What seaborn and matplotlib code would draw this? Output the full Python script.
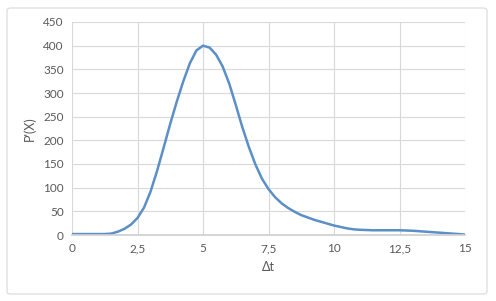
import matplotlib
matplotlib.use("Agg")
import matplotlib.pyplot as plt
import seaborn as sns
import pandas as pd
from matplotlib.ticker import FuncFormatter, MultipleLocator
from matplotlib.patches import FancyBboxPatch

dt = [0, 0.25, 0.5, 0.75, 1, 1.25, 1.5, 1.75, 2, 2.25, 2.5, 2.75, 3, 3.25, 3.5,
      3.75, 4, 4.25, 4.5, 4.75, 5, 5.25, 5.5, 5.75, 6, 6.25, 6.5, 6.75, 7, 7.25,
      7.5, 7.75, 8, 8.25, 8.5, 8.75, 9, 9.25, 9.5, 9.75, 10, 10.25, 10.5, 10.75,
      11, 11.5, 12, 12.5, 13, 13.5, 14, 14.5, 15]
px = [2, 2, 2, 2, 2, 2, 3, 7, 13, 22, 36, 58, 92, 136, 185,
      235, 282, 325, 363, 390, 400, 396, 381, 356, 320, 275, 228, 186, 149, 119,
      97, 80, 67, 57, 49, 42, 37, 32, 28, 24, 20, 17, 14, 12,
      11, 10, 10, 10, 9, 7, 5, 3, 1]

df = pd.DataFrame({"dt": dt, "p": px})

sns.set_theme(style="white")
plt.rcParams["font.family"] = ["Lato", "DejaVu Sans"]

fig = plt.figure(figsize=(4.96, 3.01), dpi=100)
ax = fig.add_axes([72/496, 1-235/301, (465-72)/496, (235-22)/301])

sns.lineplot(data=df, x="dt", y="p", ax=ax, color="#5b8fc7", linewidth=1.8)
for ln in ax.lines:
    ln.set_solid_joinstyle("round")
    ln.set_solid_capstyle("round")

ax.set_xlim(0, 15)
ax.set_ylim(0, 450)
ax.xaxis.set_major_locator(MultipleLocator(2.5))
ax.yaxis.set_major_locator(MultipleLocator(50))
ax.xaxis.set_major_formatter(FuncFormatter(lambda v, p: (f"{v:g}").replace(".", ",")))
ax.grid(True, color="#d9d9d9", linewidth=0.8)
ax.set_axisbelow(True)
for s in ["top", "right", "left"]:
    ax.spines[s].set_visible(False)
ax.spines["bottom"].set_color("#d0d0d0")
ax.tick_params(axis="both", length=0, labelsize=8.5, labelcolor="#595959", pad=6)
ax.set_xlabel("Δt", fontsize=9, color="#595959", labelpad=5)
ax.set_ylabel("P'(X)", fontsize=9, color="#595959", labelpad=5)

border = FancyBboxPatch((7/496, 7/301), (487-7)/496, (293-7)/301,
                        boxstyle="round,pad=0,rounding_size=0.008",
                        transform=fig.transFigure, fill=False,
                        edgecolor="#d9d9d9", linewidth=0.8)
fig.patches.append(border)

fig.savefig("out.png", dpi=100)
